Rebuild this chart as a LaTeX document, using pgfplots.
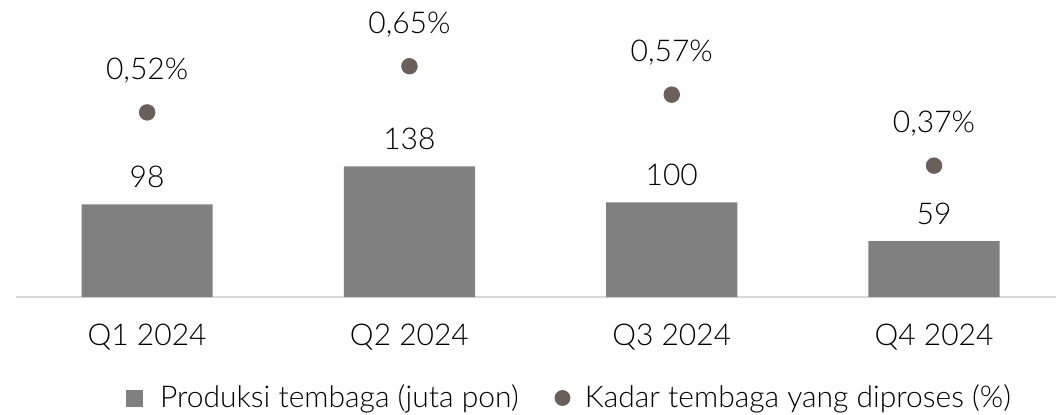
\documentclass[border=0pt]{standalone}
\usepackage{fontspec}
\setmainfont{Lato}[UprightFont={* Light}]
\usepackage{pgfplots}
\pgfplotsset{compat=1.18}
\definecolor{bargray}{HTML}{808080}
\definecolor{dotbrown}{HTML}{6B5F5B}
\definecolor{axisgray}{HTML}{D9D9D9}

\begin{document}
\fontsize{15}{18}\selectfont
\begin{tikzpicture}
\useasboundingbox (-8pt,-58.5pt) rectangle (520pt,148.5pt);
% bars: copper production
\begin{axis}[
  at={(0pt,0pt)}, anchor=south west,
  scale only axis, width=520pt, height=148.5pt,
  xmin=-0.5, xmax=3.465, ymin=0, ymax=314,
  ybar, bar width=0.5,
  axis y line=none, axis x line=bottom,
  x axis line style={-, draw=axisgray, line width=0.8pt},
  xtick={0,1,2,3},
  xticklabels={Q1 2024,Q2 2024,Q3 2024,Q4 2024},
  major tick length=0pt, ytick=\empty,
  xticklabel style={anchor=base, yshift=-24pt, text=black},
  nodes near coords={\pgfmathprintnumber{\pgfplotspointmeta}},
  every node near coord/.append style={anchor=base, yshift=8.5pt, text=black},
  /pgf/number format/assume math mode=true,
  clip=false,
]
\addplot[fill=bargray, draw=none] coordinates {(0,98) (1,138) (2,100) (3,59)};
\end{axis}
% dots: ore grade
\begin{axis}[
  at={(0pt,0pt)}, anchor=south west,
  scale only axis, width=520pt, height=148.5pt,
  xmin=-0.5, xmax=3.465, ymin=0, ymax=0.8366,
  hide axis, clip=false,
  /pgf/number format/assume math mode=true,
  nodes near coords={\pgfmathprintnumber[fixed,fixed zerofill,precision=2,use comma]{\pgfplotspointmeta}\%},
  every node near coord/.append style={anchor=base, yshift=16.5pt, text=black},
  legend columns=2,
  legend style={draw=none, fill=none, at={(0.533,-0.340)}, anchor=center,
    /tikz/every even column/.append style={column sep=16pt}},
  legend cell align=left,
]
\addlegendimage{legend image code/.code={\fill[bargray] (0pt,-4pt) rectangle (8pt,4pt); \path[draw=none,fill=none] (0pt,0pt) rectangle (15pt,0.1pt);}}
\addlegendentry{Produksi tembaga (juta pon)}
\addplot[only marks, mark=*, mark size=3.9pt, color=dotbrown,
  legend image code/.code={\fill[dotbrown] (3.75pt,0pt) circle (3.75pt); \path[draw=none,fill=none] (0pt,0pt) rectangle (13pt,0.1pt);}]
  coordinates {(0,0.52) (1,0.65) (2,0.57) (3,0.37)};
\addlegendentry{Kadar tembaga yang diproses (\%)}
\end{axis}
\end{tikzpicture}
\end{document}
